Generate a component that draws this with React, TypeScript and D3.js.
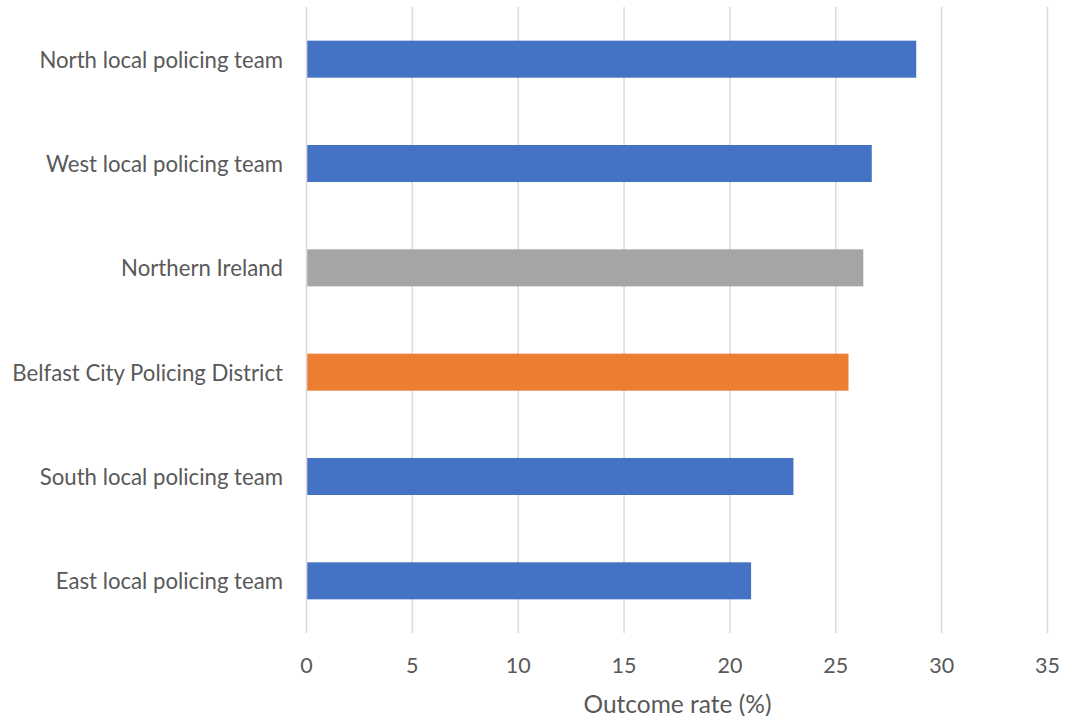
import React from "react";
import * as d3 from "d3";

const categories = [
  "North local policing team",
  "West local policing team",
  "Northern Ireland",
  "Belfast City Policing District",
  "South local policing team",
  "East local policing team",
];
const values = [28.8, 26.7, 26.3, 25.6, 23.0, 21.0];
const barColors = ["#4472C4", "#4472C4", "#A5A5A5", "#ED7D31", "#4472C4", "#4472C4"];
const xTicks = [0, 5, 10, 15, 20, 25, 30, 35];
const xTitle = "Outcome rate (%)";

export default function App() {
  const W = 1084, H = 716;
  const left = 306.5, right = 1047.5, top = 7, bottom = 633;
  const x = d3.scaleLinear().domain([0, 35]).range([left, right]);
  const y = d3.scaleBand<string>().domain(categories).range([top, bottom]).paddingInner(0.645).paddingOuter(0.3225);
  const font = "Lato, 'Open Sans', sans-serif";
  return (
    <svg width={W} height={H} style={{ position: "absolute", left: 0, top: 0, background: "#fff" }}>
      {xTicks.map((t) => (
        <line key={"g" + t} x1={x(t)} x2={x(t)} y1={top} y2={bottom} stroke="#d9d9d9" strokeWidth={1.5} />
      ))}
      {categories.map((c, i) => (
        <rect key={c} x={x(0) + 0.75} y={y(c)} width={x(values[i]) - x(0) - 0.75} height={y.bandwidth()} fill={barColors[i]} />
      ))}
      {categories.map((c) => (
        <text key={"l" + c} x={283} y={(y(c) as number) + y.bandwidth() / 2} textAnchor="end" dominantBaseline="central"
          fontFamily={font} fontSize={22.2} fill="#595959">{c}</text>
      ))}
      {xTicks.map((t) => (
        <text key={"t" + t} x={x(t)} y={665} textAnchor="middle" dominantBaseline="central" fontFamily={font} fontSize={21.5} fill="#595959">{t}</text>
      ))}
      <text x={677.5} y={703} textAnchor="middle" dominantBaseline="central" fontFamily={font} fontSize={24.5} fill="#595959">{xTitle}</text>
    </svg>
  );
}
